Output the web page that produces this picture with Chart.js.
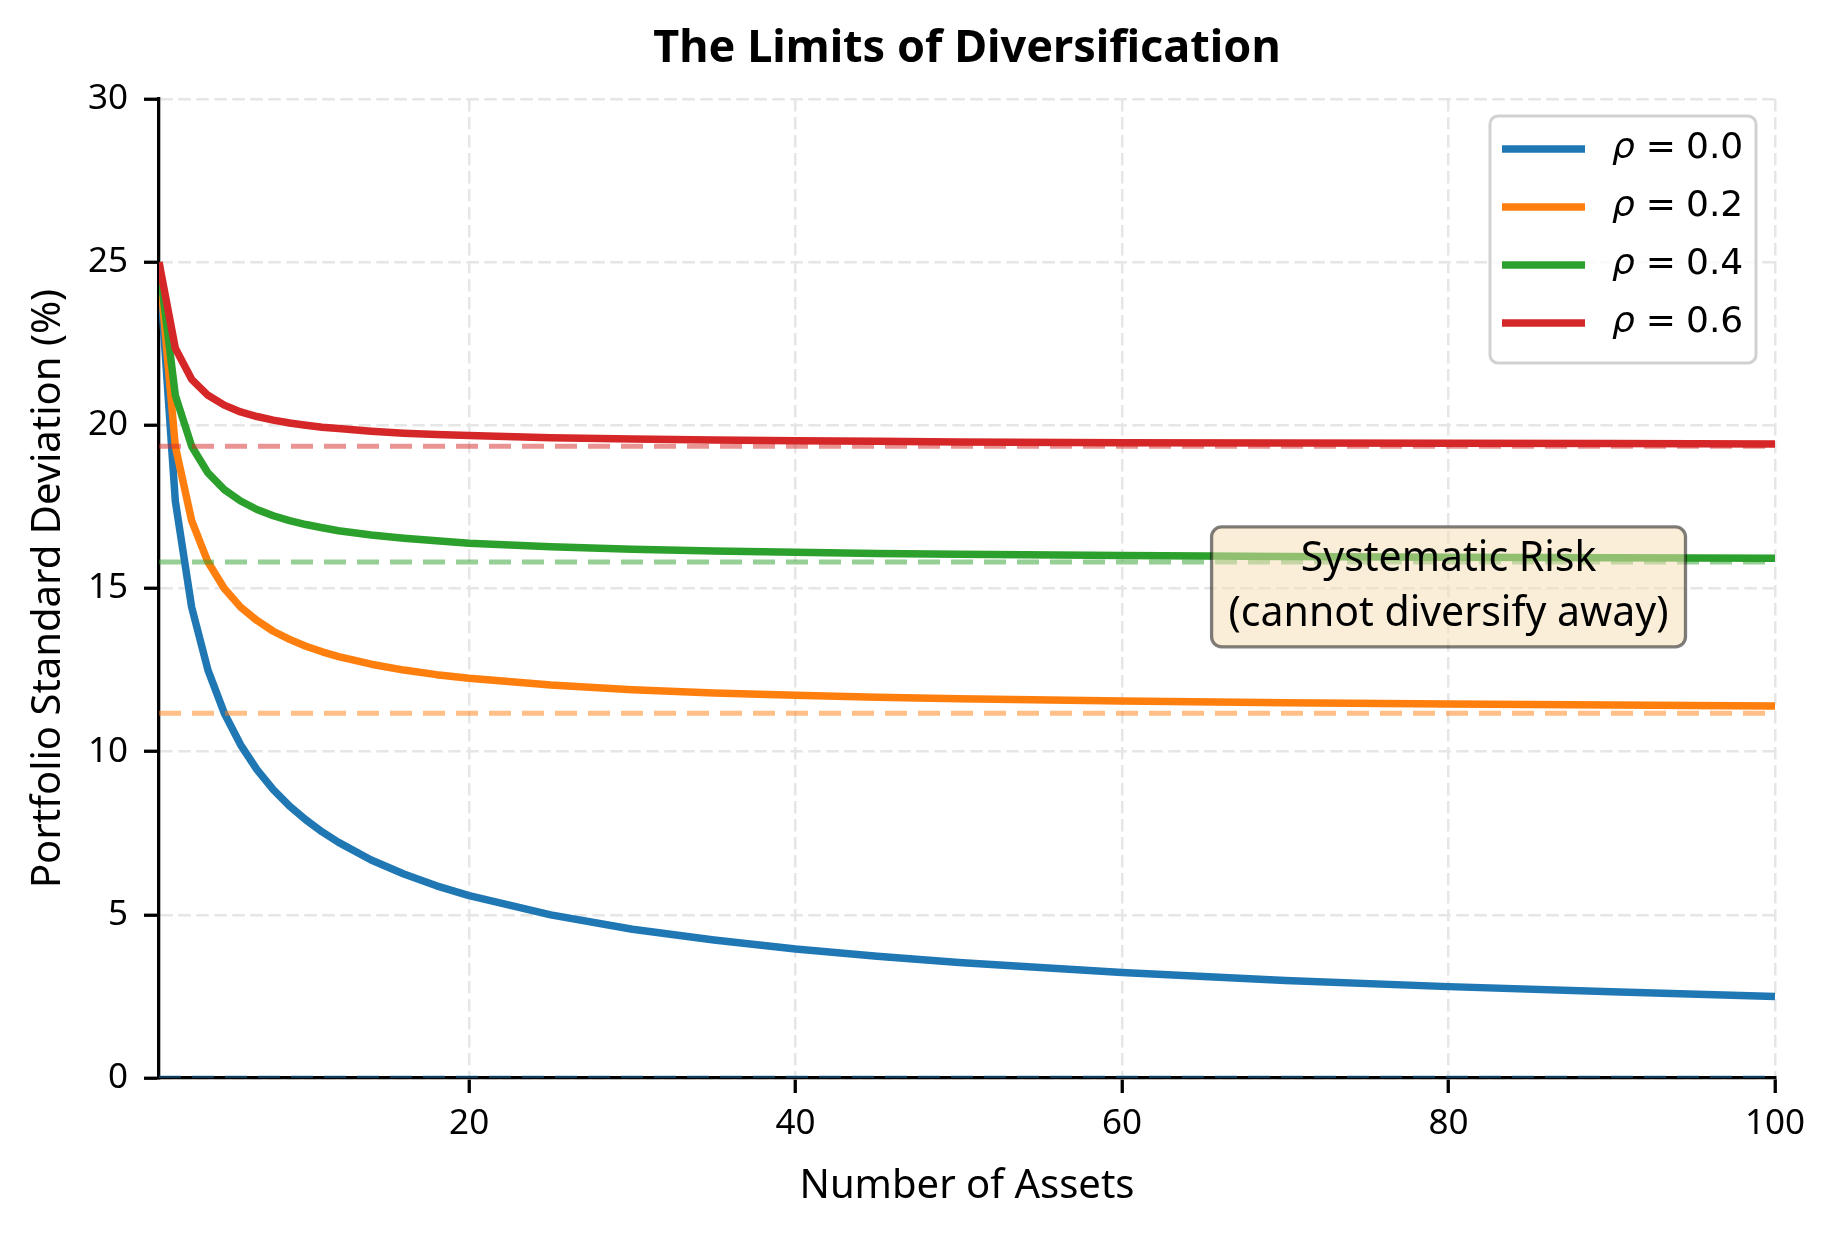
<!DOCTYPE html>
<html>
<head>
<meta charset="utf-8">
<title>The Limits of Diversification</title>
<script src="https://cdn.jsdelivr.net/npm/chart.js@4.4.1/dist/chart.umd.min.js"></script>
<style>
  html, body { margin: 0; padding: 0; background: #fff; }
  canvas { display: block; }
</style>
</head>
<body>
<canvas id="divChart" width="1834" height="1234"></canvas>
<script>
// values
const assets = [1, 2, 3, 4, 5, 6, 7, 8, 9, 10, 11, 12, 14, 16, 18, 20, 25, 30, 35, 40, 45, 50, 60, 70, 80, 90, 100];
const rho00 = [25, 17.68, 14.43, 12.5, 11.18, 10.21, 9.45, 8.84, 8.33, 7.91, 7.54, 7.22, 6.68, 6.25, 5.89, 5.59, 5.0, 4.56, 4.23, 3.95, 3.73, 3.54, 3.23, 2.99, 2.80, 2.64, 2.5];
const rho02 = [25, 19.36, 17.08, 15.81, 15.0, 14.43, 14.02, 13.69, 13.44, 13.23, 13.06, 12.91, 12.68, 12.5, 12.36, 12.25, 12.04, 11.90, 11.80, 11.73, 11.67, 11.62, 11.55, 11.50, 11.46, 11.43, 11.40];
const rho04 = [25, 20.92, 19.36, 18.54, 18.03, 17.68, 17.42, 17.23, 17.08, 16.96, 16.86, 16.77, 16.64, 16.54, 16.46, 16.39, 16.28, 16.20, 16.15, 16.11, 16.07, 16.05, 16.01, 15.98, 15.96, 15.94, 15.93];
const rho06 = [25, 22.36, 21.41, 20.92, 20.62, 20.41, 20.27, 20.16, 20.07, 20.0, 19.94, 19.90, 19.82, 19.76, 19.72, 19.69, 19.62, 19.58, 19.55, 19.53, 19.51, 19.49, 19.47, 19.46, 19.45, 19.44, 19.43];
const rhoLabels = ['0.0', '0.2', '0.4', '0.6'];
const systematicFloor = [0, 11.18, 15.81, 19.36];
const xTicks = [20, 40, 60, 80, 100];
const yTicks = [0, 5, 10, 15, 20, 25, 30];

const colors = ['#1f77b4', '#ff7f0e', '#2ca02c', '#d62728'];
const seriesValues = [rho00, rho02, rho04, rho06];
const FONT = '"Noto Sans", "DejaVu Sans", sans-serif';

const datasets = [];
seriesValues.forEach((vals, i) => {
    datasets.push({
        label: 'ρ = ' + rhoLabels[i],
        data: assets.map((n, j) => ({ x: n, y: vals[j] })),
        borderColor: colors[i],
        borderWidth: 7.5,
        borderJoinStyle: 'round',
        pointRadius: 0,
        tension: 0,
        order: 8 - 2 * i
    });
    datasets.push({
        label: 'floor ' + rhoLabels[i],
        data: [
            { x: assets[0], y: systematicFloor[i] },
            { x: assets[assets.length - 1], y: systematicFloor[i] }
        ],
        borderColor: colors[i] + '80',
        borderWidth: 5,
        borderDash: [22, 11],
        pointRadius: 0,
        order: 9 - 2 * i
    });
});

// title, legend box and the text box are drawn by hand
const overlay = {
    id: 'overlay',
    afterDatasetsDraw(chart) {
        const { ctx, chartArea: a, scales } = chart;
        ctx.save();

        // "Systematic Risk" box
        const cx = scales.x.getPixelForValue(80);
        const cy = scales.y.getPixelForValue(15.05);
        const lines = ['Systematic Risk', '(cannot diversify away)'];
        ctx.font = '41px ' + FONT;
        const w = Math.max(...lines.map(t => ctx.measureText(t).width)) + 34;
        const h = 120;
        ctx.beginPath();
        ctx.roundRect(cx - w / 2, cy - h / 2, w, h, 10);
        ctx.fillStyle = 'rgba(245,222,179,0.5)';
        ctx.fill();
        ctx.lineWidth = 3.3;
        ctx.strokeStyle = 'rgba(0,0,0,0.5)';
        ctx.stroke();
        ctx.fillStyle = '#000';
        ctx.textAlign = 'center';
        ctx.textBaseline = 'middle';
        ctx.fillText(lines[0], cx, cy - 28);
        ctx.fillText(lines[1], cx, cy + 27);

        // legend
        const lw = 266, lh = 247;
        const lx = a.right - 19 - lw, ly = a.top + 17;
        ctx.beginPath();
        ctx.roundRect(lx, ly, lw, lh, 8);
        ctx.fillStyle = 'rgba(255,255,255,0.8)';
        ctx.fill();
        ctx.lineWidth = 3;
        ctx.strokeStyle = 'rgba(204,204,204,0.9)';
        ctx.stroke();
        ctx.textAlign = 'left';
        rhoLabels.forEach((lab, i) => {
            const ry = ly + 33 + i * 58;
            ctx.beginPath();
            ctx.moveTo(lx + 12, ry);
            ctx.lineTo(lx + 95, ry);
            ctx.strokeStyle = colors[i];
            ctx.lineWidth = 7.5;
            ctx.stroke();
            ctx.fillStyle = '#000';
            ctx.font = 'italic 36px "DejaVu Sans"';
            ctx.fillText('ρ', lx + 122, ry);
            let px = lx + 122 + ctx.measureText('ρ').width + 11;
            ctx.font = '36px "DejaVu Sans"';
            ctx.fillText('=', px, ry);
            px += ctx.measureText('=').width + 10;
            ctx.fillText(lab, px, ry);
        });
        ctx.restore();
    },
    afterDraw(chart) {
        const { ctx, chartArea: a } = chart;
        ctx.save();
        ctx.font = 'bold 45px ' + FONT;
        ctx.fillStyle = '#000';
        ctx.textAlign = 'center';
        ctx.textBaseline = 'middle';
        ctx.fillText('The Limits of Diversification', (a.left + a.right) / 2, 49);
        ctx.restore();
    }
};

const gridStyle = {
    color: '#e6e6e6',
    lineWidth: 2.5,
    tickLength: 15,
    tickColor: '#000',
    tickWidth: 3.3,
    tickBorderDash: []
};
// in Chart.js v4 border.dash styles the grid lines, not the axis line
const borderStyle = { display: true, color: '#000', width: 3.3, dash: [12.5, 5.5] };

new Chart(document.getElementById('divChart'), {
    type: 'line',
    data: { datasets },
    options: {
        responsive: false,
        devicePixelRatio: 1,
        animation: false,
        layout: { padding: { top: 99, right: 59, left: 0, bottom: 0 } },
        plugins: {
            legend: { display: false },
            title: { display: false },
            tooltip: { enabled: false }
        },
        scales: {
            x: {
                type: 'linear',
                min: 1,
                max: 100,
                afterBuildTicks: s => { s.ticks = xTicks.map(v => ({ value: v })); },
                afterFit: s => { s.height = 156; s.paddingLeft = 0; s.paddingRight = 0; },
                ticks: { color: '#000', font: { family: FONT, size: 35 }, padding: 10, maxRotation: 0 },
                grid: gridStyle,
                border: borderStyle,
                title: {
                    display: true,
                    text: 'Number of Assets',
                    color: '#000',
                    font: { family: FONT, size: 40 },
                    padding: { top: 0, bottom: 23 }
                }
            },
            y: {
                type: 'linear',
                min: 0,
                max: 30,
                afterBuildTicks: s => { s.ticks = yTicks.map(v => ({ value: v })); },
                afterFit: s => { s.width = 159; s.paddingTop = 0; s.paddingBottom = 0; },
                ticks: { color: '#000', font: { family: FONT, size: 35 }, padding: 16 },
                grid: gridStyle,
                border: borderStyle,
                title: {
                    display: true,
                    text: 'Portfolio Standard Deviation (%)',
                    color: '#000',
                    font: { family: FONT, size: 40 },
                    padding: { top: 25, bottom: 0 }
                }
            }
        }
    },
    plugins: [overlay]
});
</script>
</body>
</html>
